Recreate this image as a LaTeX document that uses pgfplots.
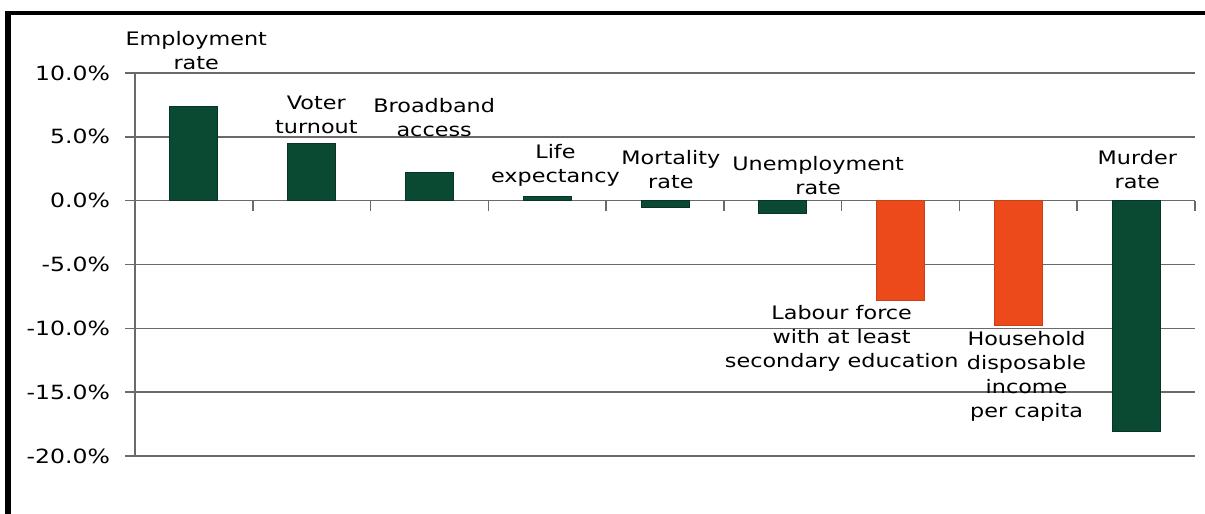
\documentclass[border=0pt]{standalone}
\usepackage{pgfplots}
\pgfplotsset{compat=1.18}
\usepackage{fontspec}
\setmainfont{DejaVu Sans}[FakeStretch=1.2]
\definecolor{bargreen}{HTML}{0A4A33}
\definecolor{barorange}{HTML}{EC4A1A}
\definecolor{gridgray}{HTML}{6A6A6A}
\begin{document}
\begin{tikzpicture}
\useasboundingbox (0pt,0pt) rectangle (602.5pt,-257pt);
\draw[line width=2pt] (2.5pt,-6.5pt) -- (602.5pt,-6.5pt);
\draw[line width=3pt] (4pt,-5.5pt) -- (4pt,-257pt);
\begin{axis}[
  at={(67.5pt,-228pt)}, anchor=south west,
  scale only axis, width=530pt, height=191.5pt,
  xmin=-0.5, xmax=8.5, ymin=-20, ymax=10,
  axis y line*=left, axis x line*=middle,
  axis line style={gridgray, line width=0.8pt},
  xtick={-0.5,0.5,1.5,2.5,3.5,4.5,5.5,6.5,7.5,8.5},
  xticklabels={},
  ytick={-20,-15,-10,-5,0,5,10},
  yticklabels={-20.0\%,-15.0\%,-10.0\%,-5.0\%,0.0\%,5.0\%,10.0\%},
  ymajorgrids,
  grid style={gridgray, line width=0.8pt},
  tick align=outside,
  major tick length=5pt,
  tick style={gridgray, line width=0.8pt},
  yticklabel style={font=\fontsize{9.8}{11}\selectfont, xshift=-4pt},
  ybar, bar width=24pt,
  clip=false,
]
\addplot[fill=bargreen, draw=bargreen!70!black, bar shift=0pt] coordinates {
  (0,7.4) (1,4.5) (2,2.2) (3,0.3) (4,-0.5) (5,-1.0) (8,-18.1)};
\addplot[fill=barorange, draw=barorange!85!black, bar shift=0pt] coordinates {
  (6,-7.8) (7,-9.8)};
\begin{scope}[every node/.style={align=center, inner sep=0pt, font=\fontsize{9.3}{12}\selectfont}]
\node[anchor=south] at (axis cs:0.02,10.2) {Employment\\rate};
\node[anchor=south] at (axis cs:1.04,5.2) {Voter\\turnout};
\node[anchor=south] at (axis cs:2.04,5.0) {Broadband\\access};
\node[anchor=south] at (axis cs:3.07,1.1) {Life\\expectancy};
\node[anchor=south] at (axis cs:4.05,0.9) {Mortality\\rate};
\node[anchor=south] at (axis cs:5.30,0.4) {Unemployment\\rate};
\node[anchor=south] at (axis cs:8.01,0.9) {Murder\\rate};
\node[anchor=north] at (axis cs:5.50,-8.2) {Labour force\\with at least\\secondary education};
\node[anchor=north] at (axis cs:7.07,-10.2) {Household\\disposable\\income\\per capita};
\end{scope}
\end{axis}
\end{tikzpicture}
\end{document}
